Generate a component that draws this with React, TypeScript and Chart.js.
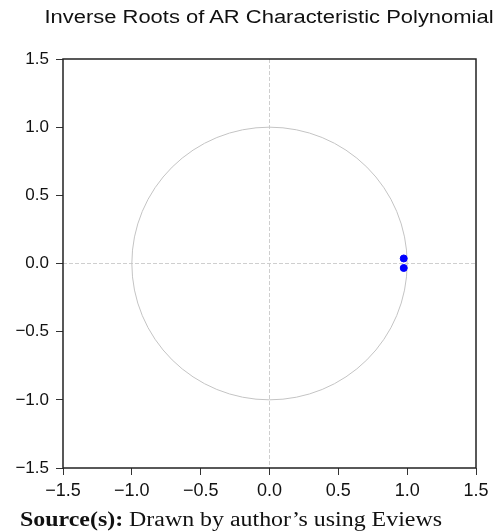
import React, { useEffect, useRef } from "react";
import { Chart, registerables } from "chart.js";

Chart.register(...registerables);

const TITLE = "Inverse Roots of AR Characteristic Polynomial";
const SOURCE_LABEL = "Source(s):";
const SOURCE_TEXT = " Drawn by author\u2019s using Eviews";

// Inverse roots (real, imaginary)
const rootReal = [0.975, 0.975];
const rootImag = [0.037, -0.033];

const axisMin = -1.5;
const axisMax = 1.5;
const tickStep = 0.5;
const unitRadius = 1;

const fmt = (v: number) => Number(v).toFixed(1).replace("-", "\u2212");

const refPlugin = {
  id: "refLines",
  beforeDatasetsDraw(chart: any) {
    const { ctx, chartArea, scales } = chart;
    const xs = scales.x;
    const ys = scales.y;
    const x0 = xs.getPixelForValue(0);
    const y0 = ys.getPixelForValue(0);
    ctx.save();
    ctx.strokeStyle = "#cfcfcf";
    ctx.lineWidth = 1;
    ctx.setLineDash([4, 2]);
    ctx.beginPath();
    ctx.moveTo(x0, chartArea.top);
    ctx.lineTo(x0, chartArea.bottom);
    ctx.moveTo(chartArea.left, y0);
    ctx.lineTo(chartArea.right, y0);
    ctx.stroke();
    ctx.setLineDash([]);
    const rx = xs.getPixelForValue(unitRadius) - x0;
    const ry = y0 - ys.getPixelForValue(unitRadius);
    ctx.strokeStyle = "#c4c4c4";
    ctx.beginPath();
    ctx.ellipse(x0, y0, rx, ry, 0, 0, Math.PI * 2);
    ctx.stroke();
    ctx.restore();
  },
  afterDraw(chart: any) {
    const { ctx, chartArea } = chart;
    ctx.save();
    ctx.strokeStyle = "#222";
    ctx.lineWidth = 1.5;
    ctx.strokeRect(
      chartArea.left,
      chartArea.top,
      chartArea.right - chartArea.left,
      chartArea.bottom - chartArea.top
    );
    ctx.restore();
  },
};

export default function App() {
  const ref = useRef<HTMLCanvasElement>(null);
  useEffect(() => {
    document.body.style.margin = "0";
    const chart = new Chart(ref.current!, {
      type: "scatter",
      data: {
        datasets: [
          {
            data: rootReal.map((r, i) => ({ x: r, y: rootImag[i] })),
            backgroundColor: "#0000ff",
            borderColor: "#0000ff",
            pointRadius: 3.5,
          },
        ],
      },
      options: {
        animation: false,
        responsive: false,
        layout: { padding: { top: 59, right: 21, left: 0, bottom: 0 } },
        plugins: { legend: { display: false }, tooltip: { enabled: false } },
        scales: {
          x: {
            type: "linear",
            min: axisMin,
            max: axisMax,
            ticks: {
              stepSize: tickStep,
              callback: (v: any) => fmt(v),
              color: "#111",
              font: { family: "Liberation Sans", size: 18 },
              padding: 5,
              maxRotation: 0,
            },
            grid: {
              drawOnChartArea: false,
              drawTicks: true,
              tickLength: 7,
              color: "#333",
            },
            border: { display: false },
            afterFit: (s: any) => {
              s.height = 64;
            },
          },
          y: {
            type: "linear",
            min: axisMin,
            max: axisMax,
            ticks: {
              stepSize: tickStep,
              callback: (v: any) => fmt(v),
              color: "#111",
              font: { family: "Liberation Sans", size: 17 },
              padding: 7,
            },
            grid: {
              drawOnChartArea: false,
              drawTicks: true,
              tickLength: 7,
              color: "#333",
            },
            border: { display: false },
            afterFit: (s: any) => {
              s.width = 63;
            },
          },
        },
      },
      plugins: [refPlugin],
    } as any);
    return () => chart.destroy();
  }, []);

  return (
    <div style={{ position: "absolute", left: 0, top: 0, width: 497, height: 532, background: "#fff" }}>
      <canvas ref={ref} width={497} height={532} style={{ position: "absolute", left: 0, top: 0 }} />
      <div
        style={{
          position: "absolute",
          left: 0,
          width: 538,
          top: 7,
          textAlign: "center",
          fontFamily: "Liberation Sans",
          fontSize: 18,
          color: "#111",
          whiteSpace: "nowrap",
          transform: "scaleX(1.22)",
          transformOrigin: "269px 0",
        }}
      >
        {TITLE}
      </div>
      <div
        style={{
          position: "absolute",
          left: 20,
          top: 508,
          fontFamily: "Liberation Serif",
          fontSize: 20,
          color: "#111",
          whiteSpace: "nowrap",
          transform: "scaleX(1.195)",
          transformOrigin: "0 0",
        }}
      >
        <b>{SOURCE_LABEL}</b>
        {SOURCE_TEXT}
      </div>
    </div>
  );
}
